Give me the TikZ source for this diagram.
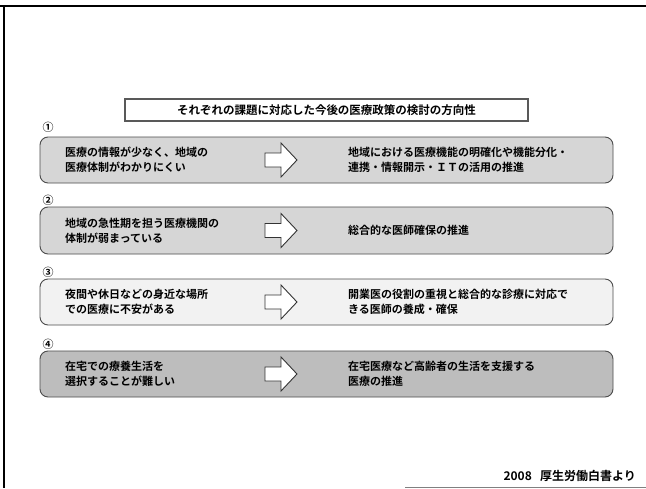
\documentclass[tikz,border=0pt]{standalone}
\usepackage{fontspec}
\newfontfamily\jp{Noto Sans CJK JP}[BoldFont={Noto Sans CJK JP Bold}]
\newfontfamily\symf{DejaVu Sans}
\tikzset{
  rowbox/.style={draw=black!70, line width=0.9pt, rounded corners=8pt,
    minimum width=573pt, inner sep=0pt},
  lefttext/.style={anchor=west, align=left, inner sep=0pt,
    font=\jp\bfseries\fontsize{11}{15}\selectfont},
  righttext/.style={anchor=west, align=left, inner sep=0pt,
    font=\jp\bfseries\fontsize{11}{15}\selectfont},
  numlabel/.style={inner sep=0pt, font=\jp\bfseries\fontsize{11}{11}\selectfont},
  bigarrow/.style={draw=black!80, line width=0.9pt, fill=white, line join=miter}
}
\newcommand\rowarrow[1]{%
  \draw[bigarrow] ([shift={(-16,-7)}]#1) -- ([shift={(0,-7)}]#1) -- ([shift={(0,-17)}]#1)
    -- ([shift={(16,0)}]#1) -- ([shift={(0,17)}]#1) -- ([shift={(0,7)}]#1)
    -- ([shift={(-16,7)}]#1) -- cycle;}
\begin{document}
\begin{tikzpicture}[x=1pt,y=-1pt]
\useasboundingbox (0,0) rectangle (646,488);
\fill[white] (0,0) rectangle (646,488);
% frame
\coordinate (fa) at (0,6);
\coordinate (fb) at (646,6);
\coordinate (fc) at (4,6);
\coordinate (fd) at (4,488);
\draw[line width=2.5pt] (fa) -- (fb);
\draw[line width=2.5pt] (fc) -- (fd);
\coordinate (ba) at (405,487);
\coordinate (bb) at (646,487);
\draw[black!50, line width=0.8pt] (ba) -- (bb);
% title
\node[draw=black!65, line width=1.4pt, minimum width=403pt, minimum height=22pt,
  inner sep=0pt, font=\jp\bfseries\fontsize{11.5}{12}\selectfont] (title) at (326.5,110)
  {それぞれの課題に対応した今後の医療政策の検討の方向性};
% rows
\node[rowbox, fill=black!16, minimum height=46pt] (b1) at (326.5,160) {};
\node[rowbox, fill=black!16, minimum height=47pt] (b2) at (326.5,230.5) {};
\node[rowbox, fill=black!5, minimum height=46pt] (b3) at (326.5,302) {};
\node[rowbox, fill=black!26, minimum height=46pt] (b4) at (326.5,374) {};
\node[numlabel] (n1) at (48,127) {①};
\node[numlabel] (n2) at (48,200) {②};
\node[numlabel] (n3) at (48,272) {③};
\node[numlabel] (n4) at (48,344) {④};
% arrow centres
\coordinate (a1) at (281,160);
\coordinate (a2) at (281,230.5);
\coordinate (a3) at (281,302);
\coordinate (a4) at (281,374);
% row 1
\node[lefttext] (l1) at (65,160) {医療の情報が少なく、地域の\\医療体制がわかりにくい};
\rowarrow{a1}
\node[righttext] (r1) at (348,160) {地域における医療機能の明確化や機能分化・\\連携・情報開示・ＩＴの活用の推進};
% row 2
\node[lefttext] (l2) at (65,230.5) {地域の急性期を担う医療機関の\\体制が弱まっている};
\rowarrow{a2}
\node[righttext] (r2) at (348,230.5) {総合的な医師確保の推進};
% row 3
\node[lefttext] (l3) at (65,302) {夜間や休日などの身近な場所\\での医療に不安がある};
\rowarrow{a3}
\node[righttext] (r3) at (348,302) {開業医の役割の重視と総合的な診療に対応で\\きる医師の養成・確保};
% row 4
\node[lefttext] (l4) at (65,374) {在宅での療養生活を\\選択することが難しい};
\rowarrow{a4}
\node[righttext] (r4) at (348,374) {在宅医療など高齢者の生活を支援する\\医療の推進};
% footer
\node[anchor=east, inner sep=0pt, font=\jp\bfseries\fontsize{12}{12}\selectfont] (foot) at (636,476) {2008\ \ \ 厚生労働白書より};
\end{tikzpicture}
\end{document}
